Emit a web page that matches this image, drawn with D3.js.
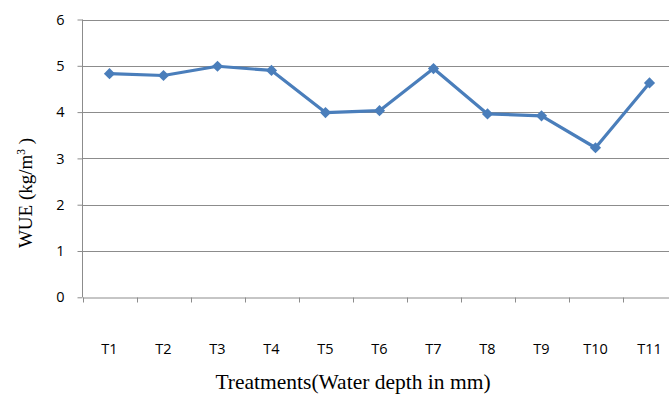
<!DOCTYPE html>
<html><head><meta charset="utf-8">
<script src="https://cdn.jsdelivr.net/npm/d3@7"></script>
<style>body{margin:0;background:#fff;}svg{display:block;}</style>
</head><body>
<svg id="c" width="669" height="396"></svg>
<script>
const categories = ["T1","T2","T3","T4","T5","T6","T7","T8","T9","T10","T11"];
const wue = [4.83, 4.79, 4.99, 4.90, 3.99, 4.03, 4.94, 3.96, 3.92, 3.23, 4.63];
const yTicks = [0,1,2,3,4,5,6];

const svg = d3.select("#c");
const x = d3.scaleBand().domain(categories).range([82.5, 676.5]);
const y = d3.scaleLinear().domain([0,6]).range([297.3, 19.5]);

// gridlines
svg.append("g").selectAll("line").data(yTicks.filter(d=>d>0)).join("line")
  .attr("x1", 82.5).attr("x2", 669).attr("y1", d=>Math.round(y(d))+0.5).attr("y2", d=>Math.round(y(d))+0.5)
  .attr("stroke", "#8c8c8c").attr("stroke-width", 1);

// y axis
const ya = svg.append("g").attr("transform","translate(82.5,0)")
  .call(d3.axisLeft(y).tickValues(yTicks).tickSize(5).tickPadding(13).tickFormat(d3.format("d")));
ya.select(".domain").attr("stroke","#8c8c8c").attr("d", `M0,${y(6)}V${y(0)}`);
ya.selectAll(".tick line").attr("stroke","#8c8c8c");
ya.selectAll(".tick text").attr("font-family","'Open Sans', sans-serif").attr("font-size",14.5).attr("fill","#000");

// x axis
const xa = svg.append("g").attr("transform",`translate(0,${Math.round(y(0))+0.5})`)
  .call(d3.axisBottom(x).tickSize(0).tickPadding(46));
xa.select(".domain").attr("stroke","#8c8c8c");
xa.selectAll(".tick text").attr("font-family","'Open Sans', sans-serif").attr("font-size",14.5).attr("fill","#000");
// tick marks at band boundaries
svg.append("g").selectAll("line").data(categories).join("line")
  .attr("x1", d=>Math.round(x(d))+0.5).attr("x2", d=>Math.round(x(d))+0.5)
  .attr("y1", Math.round(y(0))+0.5).attr("y2", Math.round(y(0))+5.5)
  .attr("stroke","#8c8c8c");

// line
const line = d3.line().x((d,i)=>x(categories[i])+x.bandwidth()/2).y(d=>y(d));
svg.append("path").datum(wue).attr("d", line).attr("fill","none")
  .attr("stroke","#4a7ebb").attr("stroke-width",3.2).attr("stroke-linejoin","round");
svg.append("g").selectAll("path").data(wue).join("path")
  .attr("d", d3.symbol(d3.symbolDiamond2, 80))
  .attr("transform",(d,i)=>`translate(${x(categories[i])+x.bandwidth()/2},${y(d)})`)
  .attr("fill","#4a7ebb");

// axis titles
const yl = svg.append("text").attr("transform","translate(32,193) rotate(-90)")
  .attr("text-anchor","middle").attr("font-family","'Liberation Serif', serif").attr("font-size",19).attr("fill","#000");
yl.append("tspan").text("WUE (kg/m");
yl.append("tspan").attr("font-size",11.5).attr("dy",-7.5).text("3");
yl.append("tspan").attr("dy",7.5).text(" )");

svg.append("text").attr("x",353).attr("y",389).attr("text-anchor","middle")
  .attr("font-family","'Liberation Serif', serif").attr("font-size",21.5).attr("fill","#000")
  .text("Treatments(Water depth in mm)");
</script>
</body></html>
